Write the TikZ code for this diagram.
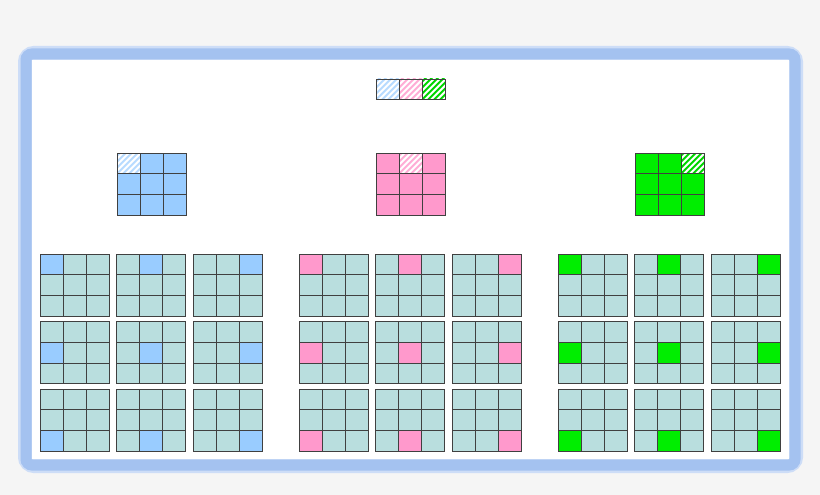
\documentclass[tikz,border=0pt]{standalone}
\definecolor{bgc}{HTML}{F5F5F5}
\definecolor{frm}{HTML}{A4C2F0}
\definecolor{cB}{HTML}{99CCFF}
\definecolor{cP}{HTML}{FF99CC}
\definecolor{cG}{HTML}{00EE00}
\definecolor{cT}{HTML}{B9DEDE}
\tikzset{cell/.style={draw=black!75,line width=0.6pt}}
\newcommand{\myhatch}[3]{% x y color
  \begin{scope}
    \clip (#1,#2) rectangle ++(23,20.7);
    \foreach \k in {-30,-24,...,30}{
      \draw[#3,line width=2pt] (#1+\k,#2+20.7) -- ++(25,-25);}
  \end{scope}
  \draw[cell] (#1,#2) rectangle ++(23,20.7);}
\begin{document}
\begin{tikzpicture}[x=1pt,y=-1pt]
\fill[bgc] (0,0) rectangle (820,495);
\draw[frm!55,line width=16pt,rounded corners=8pt] (26,54) rectangle (795,465);
\draw[frm,line width=11pt,rounded corners=6pt] (26,54) rectangle (795,465);
\fill[white] (32,60) rectangle (789,459);
% top legend
\myhatch{376}{79}{cB!70}
\myhatch{399}{79}{cP!80}
\myhatch{422}{79}{cG!90!black}
% middle grids
\foreach \gx/\col/\hc/\hp in {117/cB/0/cB!70,376/cP/1/cP!80,635/cG/2/cG!90!black}{
  \foreach \i in {0,1,2}\foreach \j in {0,1,2}{
    \pgfmathsetmacro{\px}{\gx+23*\i}\pgfmathsetmacro{\py}{153+20.7*\j}
    \pgfmathtruncatemacro{\hit}{(\i==\hc)&&(\j==0)}
    \ifnum\hit=1 \myhatch{\px}{\py}{\hp}
    \else \draw[cell,fill=\col] (\px,\py) rectangle ++(23,20.7); \fi
  }}
% bottom grids
\foreach \gx/\col in {40/cB,299/cP,558/cG}{
 \foreach \c in {0,1,2}\foreach \r in {0,1,2}{
  \pgfmathsetmacro{\ox}{\gx+76.5*\c}\pgfmathsetmacro{\oy}{254+67.5*\r}
  \foreach \i in {0,1,2}\foreach \j in {0,1,2}{
    \pgfmathsetmacro{\px}{\ox+23*\i}\pgfmathsetmacro{\py}{\oy+20.7*\j}
    \pgfmathtruncatemacro{\hit}{(\i==\c)&&(\j==\r)}
    \ifnum\hit=1 \def\fc{\col}\else\def\fc{cT}\fi
    \draw[cell,fill=\fc] (\px,\py) rectangle ++(23,20.7);
  }}}
\end{tikzpicture}
\end{document}
